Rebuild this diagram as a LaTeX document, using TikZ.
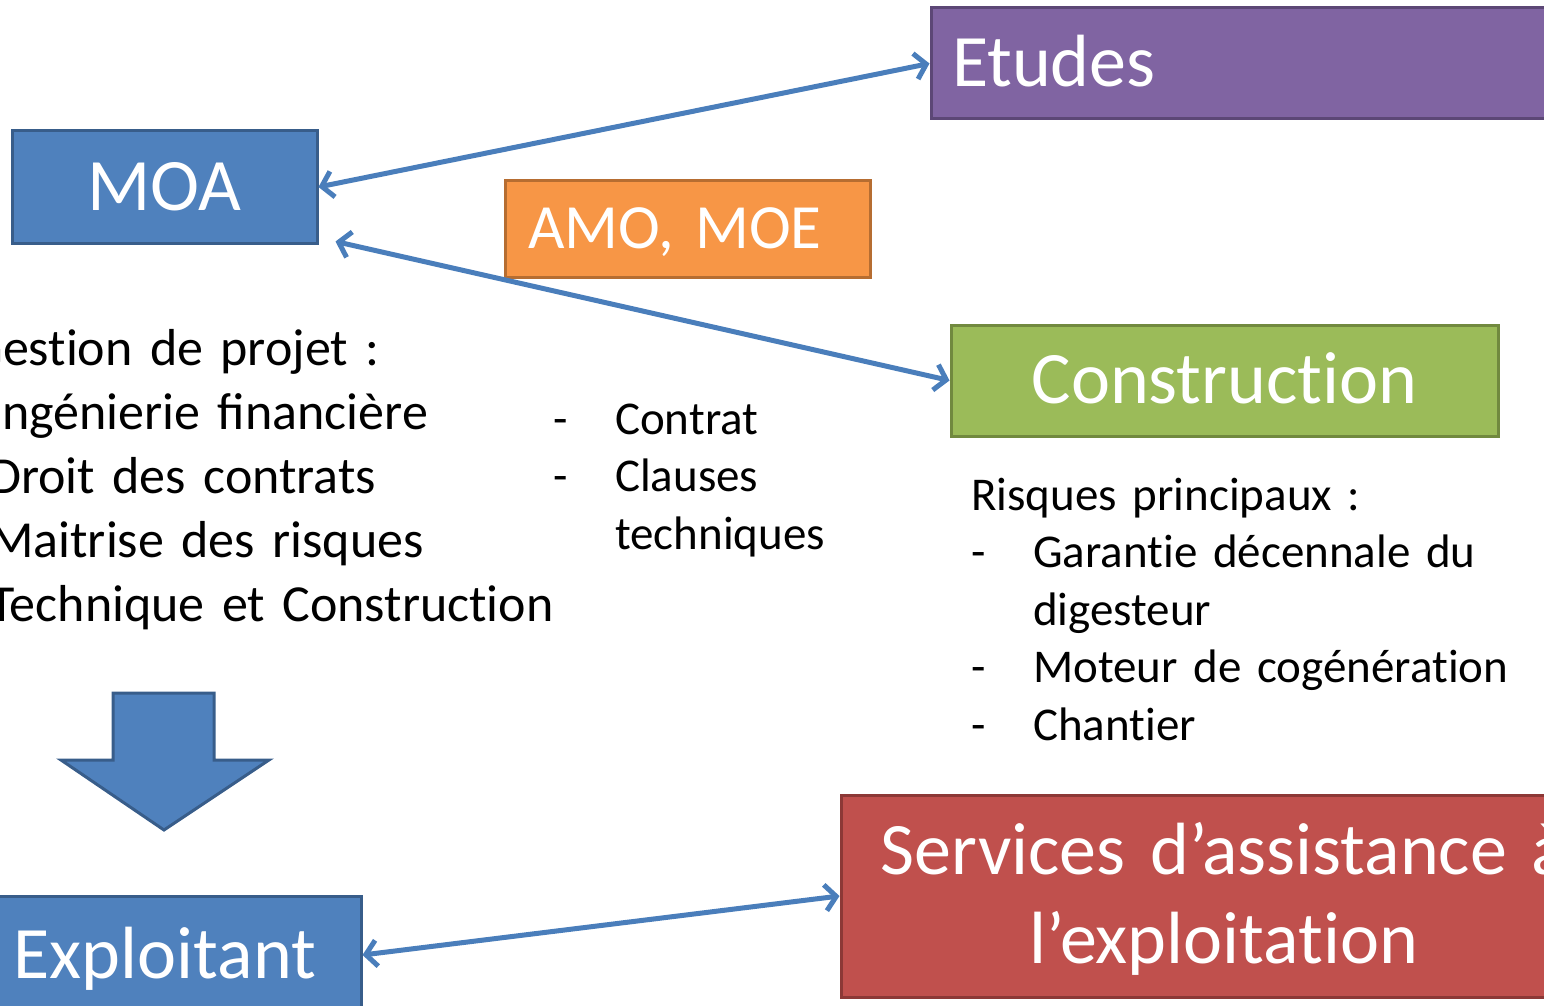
\documentclass[tikz,border=0pt]{standalone}
\usepackage{fontspec}
\setmainfont{Carlito}
\usepackage{tikz}
\usetikzlibrary{arrows.meta}
% keep t and i apart
\XeTeXinterchartokenstate=1
\newXeTeXintercharclass\tClass
\newXeTeXintercharclass\iClass
\XeTeXcharclass`t=\tClass
\XeTeXcharclass`i=\iClass
\XeTeXinterchartoks\tClass\iClass={\kern0pt}
\definecolor{moaBlue}{HTML}{4F81BD}
\definecolor{moaLine}{HTML}{385D8A}
\definecolor{etuPurple}{HTML}{8064A2}
\definecolor{etuLine}{HTML}{5C4776}
\definecolor{amoOrange}{HTML}{F79646}
\definecolor{amoLine}{HTML}{B66D31}
\definecolor{conGreen}{HTML}{9BBB59}
\definecolor{conLine}{HTML}{71893F}
\definecolor{serRed}{HTML}{C0504D}
\definecolor{serLine}{HTML}{8C3836}
\definecolor{linkBlue}{HTML}{4A7EBB}
\newcommand{\calFont}[2]{\fontsize{#1}{#2}\selectfont\spaceskip=0.226em\relax}
\tikzset{
  box/.style={rectangle, line width=3pt, text=white, inner sep=0pt,
    font=\calFont{74}{89}},
  capText/.style={text height=46pt, text depth=0pt},
  link/.style={linkBlue, line width=5pt, {Straight Barb[length=11pt,width=26pt]}-{Straight Barb[length=11pt,width=26pt]}},
  bigList/.style={inner sep=0pt, anchor=base west, align=left,
    font=\calFont{52}{64}},
  smallList/.style={inner sep=0pt, anchor=base west, align=left,
    font=\calFont{47}{57.5}}
}
\newcommand{\dashItem}{\makebox[62pt][l]{-}}

\begin{document}
\begin{tikzpicture}[x=1pt,y=-1pt]
  \useasboundingbox (0,0) rectangle (1544,1006);
  % boxes
  \node[box, capText, fill=etuPurple, draw=etuLine, minimum width=669pt, minimum height=111pt,
    text width=627pt, align=left] (etudes) at (1265.5,63.5) {Etudes};
  \node[box, capText, fill=moaBlue, draw=moaLine, minimum width=305pt, minimum height=112pt] (moa) at (164.5,187) {MOA};
  \node[box, fill=amoOrange, draw=amoLine, minimum width=365pt, minimum height=97pt,
    text width=319pt, align=left, font=\calFont{63}{77},
    text height=40pt, text depth=0pt] (amo) at (687.5,228.5) {AMO, MOE};
  \node[box, capText, fill=conGreen, draw=conLine, minimum width=547pt, minimum height=111pt] (constr) at (1224.5,380.5) {Construction};
  \node[box, fill=serRed, draw=serLine, minimum width=766pt, minimum height=202pt,
    text width=760pt, align=center, text height=46pt, text depth=89pt] (services) at (1224,896)
    {Services d’assistance à\\l’exploitation};
  \node[box, capText, fill=moaBlue, draw=moaLine, minimum width=392pt, minimum height=118pt] (exploit) at (165,955) {Exploitant};

  % lists
  \node[bigList, text width=640pt] (gestion) at (-30,365)
    {Gestion de projet :\\
     \hspace*{19pt}Ingénierie financière\\
     \hspace*{19pt}Droit des contrats\\
     \hspace*{19pt}Maitrise des risques\\
     \hspace*{19pt}Technique et Construction};
  \node[smallList, text width=280pt] (contrat) at (553,434)
    {\dashItem Contrat\\
     \dashItem Clauses\\
     \hspace*{62pt}techniques};
  \node[smallList, text width=560pt] (risques) at (971,510)
    {Risques principaux :\\
     \dashItem Garantie décennale du\\
     \hspace*{62pt}digesteur\\
     \dashItem Moteur de cogénération\\
     \dashItem Chantier};

  % down arrow
  \filldraw[fill=moaBlue, draw=moaLine, line width=3pt]
    (113,693) -- (214,693) -- (214,760) -- (269,760) -- (164,830) -- (61,760) -- (113,760) -- cycle;

  % links
  \draw[link] (moa.east) -- (etudes.west);
  \draw[link] ([xshift=17pt,yshift=3pt]moa.south east) -- (constr.west);
  \draw[link] (exploit.east) -- (services.west);
\end{tikzpicture}
\end{document}
